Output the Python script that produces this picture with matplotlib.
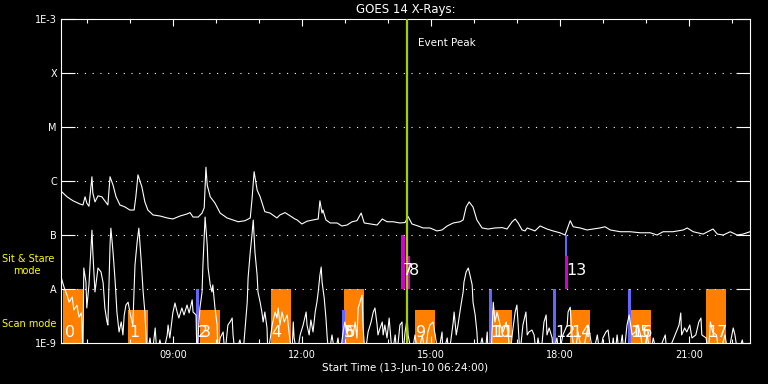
import numpy as np
import matplotlib
matplotlib.use("Agg")
import matplotlib.pyplot as plt

# ---------------- data ----------------
# long channel (1-8 A), time in hours of 13-Jun-2010, flux in units of 1e-7 W/m^2
t_long = [6.40, 6.54, 6.68, 6.84, 6.91, 6.96, 7.00, 7.05, 7.12, 7.14,
          7.19, 7.26, 7.35, 7.42, 7.49, 7.54, 7.61, 7.68, 7.77, 7.89,
          8.00, 8.10, 8.14, 8.19, 8.28, 8.35, 8.42, 8.54, 8.70, 8.87,
          9.00, 9.17, 9.33, 9.40, 9.47, 9.59, 9.68, 9.73, 9.77, 9.80,
          9.87, 9.98, 10.10, 10.26, 10.40, 10.52, 10.68, 10.80, 10.84, 10.89,
          10.96, 11.03, 11.14, 11.26, 11.42, 11.49, 11.61, 11.73, 11.84, 11.89,
          12.00, 12.12, 12.26, 12.38, 12.42, 12.47, 12.49, 12.56, 12.66, 12.82,
          12.93, 13.05, 13.17, 13.28, 13.38, 13.45, 13.59, 13.75, 13.87, 13.98,
          14.12, 14.28, 14.40, 14.47, 14.56, 14.70, 14.82, 14.98, 15.14, 15.26,
          15.38, 15.52, 15.68, 15.75, 15.82, 15.89, 15.98, 16.07, 16.19, 16.33,
          16.49, 16.66, 16.77, 16.89, 16.96, 17.03, 17.12, 17.19, 17.24, 17.42,
          17.54, 17.70, 17.84, 18.00, 18.12, 18.19, 18.24, 18.31, 18.47, 18.63,
          18.77, 18.93, 19.05, 19.17, 19.40, 19.63, 19.87, 20.10, 20.26, 20.40,
          20.63, 20.87, 20.96, 21.10, 21.33, 21.56, 21.66, 21.80, 21.96, 22.12,
          22.26, 22.42]
flux_long = [6.5, 5.1, 4.3, 3.75, 3.6, 5.1, 3.9, 3.4, 12, 6.0,
             4.1, 5.3, 5.1, 4.3, 3.6, 12, 8.4, 5.1, 3.6, 3.3,
             2.9, 2.9, 5.1, 13, 7.8, 4.1, 2.9, 2.35, 2.25, 2.07,
             1.98, 2.25, 2.45, 2.6, 2.15, 2.15, 2.55, 3.2, 18, 8.4,
             5.1, 3.9, 2.55, 2.07, 1.9, 1.76, 1.84, 2.07, 4.45, 14.9,
             6.8, 5.1, 2.7, 2.55, 2.07, 2.35, 2.6, 2.25, 1.98, 1.9,
             1.6, 1.8, 1.9, 1.98, 4.3, 2.55, 2.9, 1.9, 1.67, 1.67,
             1.47, 1.53, 1.76, 1.84, 2.55, 1.67, 1.6, 1.53, 1.98, 1.76,
             1.76, 1.67, 1.7, 2.2, 1.6, 1.47, 1.35, 1.35, 1.19, 1.24,
             1.47, 1.67, 1.76, 1.9, 3.3, 4.1, 3.3, 1.9, 1.35, 1.29,
             1.35, 1.37, 1.29, 1.76, 1.98, 1.67, 1.24, 1.19, 1.35, 1.19,
             1.47, 1.29, 1.19, 1.1, 1.0, 1.42, 1.84, 1.42, 1.35, 1.24,
             1.29, 1.35, 1.42, 1.24, 1.15, 1.15, 1.1, 1.1, 1.0, 1.15,
             1.15, 1.24, 1.35, 1.15, 1.04, 1.29, 1.04, 1.0, 1.15, 1.0,
             1.04, 1.15]

# short channel (0.5-4 A), flux in units of 1e-9 W/m^2 (0.6 = below plot floor)
t_short = [6.40, 6.47, 6.54, 6.59, 6.66, 6.70, 6.77, 6.82, 6.87, 6.89,
           6.91, 6.93, 6.98, 7.00, 7.05, 7.12, 7.14, 7.19, 7.24, 7.26,
           7.33, 7.38, 7.42, 7.47, 7.49, 7.54, 7.56, 7.61, 7.66, 7.70,
           7.75, 7.80, 7.84, 7.87, 7.91, 7.96, 8.00, 8.07, 8.12, 8.17,
           8.21, 8.26, 8.31, 8.35, 8.40, 8.47, 8.52, 8.59, 8.63, 8.70,
           8.77, 8.87, 8.89, 8.93, 9.00, 9.05, 9.10, 9.14, 9.21, 9.26,
           9.33, 9.38, 9.45, 9.47, 9.54, 9.56, 9.63, 9.68, 9.70, 9.75,
           9.80, 9.82, 9.87, 9.91, 9.93, 9.98, 10.03, 10.05, 10.10, 10.17,
           10.21, 10.28, 10.33, 10.38, 10.40, 10.45, 10.56, 10.63, 10.73, 10.75,
           10.80, 10.84, 10.87, 10.91, 10.96, 10.98, 11.03, 11.07, 11.10, 11.14,
           11.19, 11.21, 11.31, 11.38, 11.42, 11.45, 11.49, 11.54, 11.59, 11.66,
           11.70, 11.77, 11.80, 11.82, 11.89, 11.96, 12.03, 12.10, 12.12, 12.17,
           12.21, 12.26, 12.31, 12.35, 12.38, 12.42, 12.45, 12.47, 12.52, 12.56,
           12.59, 12.63, 12.70, 12.77, 12.84, 12.89, 12.96, 13.00, 13.05, 13.12,
           13.19, 13.24, 13.28, 13.31, 13.35, 13.40, 13.42, 13.47, 13.54, 13.61,
           13.66, 13.70, 13.75, 13.77, 13.82, 13.87, 13.89, 13.93, 13.98, 14.03,
           14.10, 14.17, 14.21, 14.28, 14.33, 14.35, 14.40, 14.45, 14.47, 14.56,
           14.63, 14.70, 14.80, 14.87, 14.93, 14.98, 15.05, 15.10, 15.17, 15.26,
           15.28, 15.38, 15.42, 15.52, 15.54, 15.59, 15.63, 15.70, 15.75, 15.77,
           15.82, 15.87, 15.91, 15.96, 15.98, 16.03, 16.07, 16.10, 16.19, 16.26,
           16.31, 16.33, 16.40, 16.45, 16.49, 16.54, 16.61, 16.68, 16.75, 16.80,
           16.84, 16.91, 16.96, 17.00, 17.03, 17.07, 17.14, 17.21, 17.24, 17.28,
           17.35, 17.40, 17.45, 17.49, 17.56, 17.63, 17.68, 17.70, 17.75, 17.82,
           17.84, 17.93, 17.98, 18.07, 18.17, 18.19, 18.24, 18.28, 18.35, 18.42,
           18.52, 18.66, 18.70, 18.77, 18.87, 18.93, 19.00, 19.07, 19.12, 19.19,
           19.24, 19.28, 19.33, 19.38, 19.45, 19.49, 19.56, 19.61, 19.68, 19.75,
           19.82, 19.89, 19.93, 20.03, 20.10, 20.17, 20.26, 20.45, 20.49, 20.77,
           20.81, 20.83, 20.90, 20.95, 21.02, 21.07, 21.16, 21.23, 21.28, 21.30,
           21.40, 21.45, 21.50, 21.55, 21.64, 21.71, 21.84, 21.91, 22.03, 22.07,
           22.14, 22.24, 22.31, 22.42]
flux_short = [16.7, 10.9, 7.7, 5.7, 7.1, 4.1, 5.0, 3.0, 3.6, 2.15,
              0.6, 24.5, 13.5, 4.45, 11.9, 123, 48, 8.8, 18, 24.5,
              20.7, 12.9, 4.45, 2.45, 2.15, 65, 134, 48, 13.5, 3.75,
              1.6, 2.45, 1.41, 3.3, 5.05, 5.7, 3.75, 2.15, 27.8, 74,
              134, 37.5, 8.8, 3.75, 0.6, 1.24, 0.6, 1.9, 0.6, 1.14,
              0.6, 1.41, 2.15, 1.24, 3.6, 5.5, 3.75, 2.9, 4.45, 3.3,
              5.05, 3.6, 6.3, 3.75, 3.3, 0.6, 4.45, 8.8, 27.8, 215,
              65, 24.5, 11.9, 8.8, 11.9, 4.45, 2.15, 0.6, 1.24, 1.6,
              0.6, 2.15, 2.45, 2.9, 1.41, 0.6, 1.14, 0.6, 5.7, 16,
              48, 100, 189, 48, 18, 8.8, 5.7, 3.75, 2.45, 3.75,
              1.9, 0.6, 2.15, 3.75, 2.9, 4.45, 2.15, 3.75, 2.45, 3.3,
              1.6, 0.6, 2.45, 1.24, 0.6, 1.41, 2.15, 3.75, 2.15, 1.41,
              2.67, 1.6, 3.75, 5.7, 8.8, 18, 25.5, 13.5, 6.8, 2.9,
              1.24, 0.6, 1.41, 0.6, 1.24, 0.6, 1.6, 2.45, 1.6, 2.15,
              1.41, 2.45, 1.24, 4.45, 5.7, 7.7, 2.15, 0.6, 1.6, 2.45,
              3.75, 4.45, 2.15, 1.41, 1.9, 2.45, 1.41, 2.15, 1.24, 2.9,
              0.6, 1.41, 0.6, 2.15, 2.45, 0.6, 1.6, 2.9, 1.41, 0.6,
              1.41, 0.6, 1.41, 0.6, 1.6, 2.15, 2.45, 1.41, 0.6, 1.6,
              0.6, 1.24, 0.6, 2.45, 3.75, 1.41, 2.15, 5.05, 8.8, 13.5,
              20.7, 24.5, 18, 11.9, 5.7, 3.3, 1.6, 0.6, 1.24, 0.6,
              1.6, 0.6, 0.6, 5.7, 2.45, 3.75, 2.15, 1.6, 2.45, 1.41,
              0.6, 1.9, 3.75, 5.05, 2.15, 0.6, 2.15, 3.75, 1.41, 1.6,
              1.74, 1.41, 0.6, 1.24, 0.6, 2.45, 3.3, 1.41, 1.9, 1.24,
              0.6, 1.24, 0.6, 1.41, 2.15, 3.75, 4.6, 1.41, 0.6, 1.6,
              0.6, 2.15, 1.41, 0.6, 1.41, 0.6, 1.24, 1.6, 1.74, 0.6,
              1.24, 0.6, 1.41, 0.6, 1.41, 0.6, 2.15, 3.3, 1.41, 1.6,
              2.15, 1.24, 0.6, 1.41, 0.6, 1.24, 0.6, 1.41, 0.6, 2.15,
              3.6, 1.41, 1.9, 1.6, 2.15, 1.24, 1.41, 2.45, 2.9, 1.41,
              1.24, 0.6, 2.45, 1.6, 1.41, 0.6, 1.41, 0.6, 1.9, 1.41,
              0.6, 1.14, 0.6, 0.6]

# scan-mode observations (orange): start hour, duration (h), top flux level
scan_start = [6.45, 7.96, 9.63, 11.28, 12.98, 14.63, 16.42, 18.24, 19.66, 21.40]
scan_dur = [0.465] * 10
scan_top = [1e-8, 4.1e-9, 4.1e-9, 1e-8, 1e-8, 4.1e-9, 4.1e-9, 4.1e-9, 4.1e-9, 1e-8]

# short blue markers in scan region
blue_time = [9.55, 12.94, 16.36, 17.85, 19.59]
blue_top = [1e-8, 4.1e-9, 1e-8, 1e-8, 1e-8]
# sit & stare markers
ss_blue_time = [18.11]
ss_mag_time = [14.31, 14.46, 18.13]
ss_mag_dur = [0.10, 0.05, 0.05]
ss_mag_top = [1e-7, 4.1e-8, 4.1e-8]

# observation number labels
obs_labels = ["0", "1", "2", "3", "4", "5", "6", "7", "8", "9",
              "10", "11", "12", "13", "14", "15", "16", "17"]
obs_time = [6.49, 7.99, 9.58, 9.65, 11.30, 12.97, 13.01, 14.35, 14.49, 14.65,
            16.39, 16.44, 17.89, 18.15, 18.27, 19.63, 19.68, 21.42]
obs_mode = ["scan", "scan", "scan", "scan", "scan", "scan", "scan", "ss", "ss", "scan",
            "scan", "scan", "scan", "ss", "scan", "scan", "scan", "scan"]

event_peak = 14.44
xtick_hours = [9, 12, 15, 18, 21]
xtick_labels = ["09:00", "12:00", "15:00", "18:00", "21:00"]
ytick_vals = [1e-9, 1e-8, 1e-7, 1e-6, 1e-5, 1e-4, 1e-3]
ytick_labels = ["1E-9", "A", "B", "C", "M", "X", "1E-3"]
x_start, x_end = 6.40, 22.42

# ---------------- plot ----------------
fig = plt.figure(figsize=(7.68, 3.84), dpi=100, facecolor="black")
ax = fig.add_axes([61/768, 41/384, 689/768, 324/384], facecolor="black")
ax.set_yscale("log")
ax.set_xlim(x_start, x_end)
ax.set_ylim(1e-9, 1e-3)

ORANGE = "#ff8000"
BLUE = "#6464ff"
MAG = "#d200d2"
GREEN = "#a0d200"

ax.bar(scan_start, np.array(scan_top) - 1e-9, width=scan_dur, bottom=1e-9,
       align="edge", color=ORANGE, zorder=1, linewidth=0)
ax.bar(blue_time, np.array(blue_top) - 1e-9, width=0.07, bottom=1e-9,
       align="edge", color=BLUE, zorder=1.5, linewidth=0)
ax.bar(ss_blue_time, [1e-7 - 1e-8], width=0.05, bottom=1e-8,
       align="edge", color=BLUE, zorder=1.5, linewidth=0)
ax.bar(ss_mag_time, np.array(ss_mag_top) - 1e-8, width=ss_mag_dur, bottom=1e-8,
       align="edge", color=MAG, zorder=1.6, linewidth=0)

ax.plot(t_long, np.array(flux_long) * 1e-7, color="white", lw=0.8, zorder=3)
ax.plot(t_short, np.array(flux_short) * 1e-9, color="white", lw=0.8, zorder=3)

ax.axvline(event_peak, color=GREEN, lw=1.6, zorder=4)
ax.text(event_peak + 0.26, 3.6e-4, "Event Peak", color="white", fontsize=7.5,
        va="center", ha="left", zorder=5)

for lab, t, m in zip(obs_labels, obs_time, obs_mode):
    y = 1.15e-9 if m == "scan" else 1.6e-8
    ax.text(t, y, lab, color="white", fontsize=11.5,
            ha="left", va="bottom", zorder=5)

# axes styling
for s in ax.spines.values():
    s.set_color("white")
    s.set_linewidth(0.8)
ax.set_yticks(ytick_vals)
ax.set_yticklabels(ytick_labels)
ax.yaxis.set_minor_locator(matplotlib.ticker.NullLocator())
ax.set_xticks(xtick_hours)
ax.set_xticklabels(xtick_labels)
ax.set_xticks(np.arange(7, 23), minor=True)
ax.tick_params(axis="y", which="major", direction="in", length=10, width=0.8,
               colors="white", labelsize=7, left=True, right=True, pad=3)
ax.tick_params(axis="x", which="major", direction="in", length=5, width=0.8,
               colors="white", labelsize=7, top=True, bottom=True, pad=5)
ax.tick_params(axis="x", which="minor", direction="in", length=3, width=0.8,
               colors="white", top=True, bottom=True)
for yv in ytick_vals[1:-1]:
    ax.axhline(yv, color="white", lw=0.8, linestyle=(0, (1, 6)), zorder=2)

ax.set_title("GOES 14 X-Rays:", color="white", fontsize=8.5, pad=4)
ax.set_xlabel("Start Time (13-Jun-10 06:24:00)", color="white", fontsize=7.5,
              labelpad=2)

fig.text(2/768, 1 - 259/384, "Sit & Stare", color="#ffff00", fontsize=7,
         ha="left", va="center")
fig.text(13/768, 1 - 271/384, "mode", color="#ffff00", fontsize=7,
         ha="left", va="center")
fig.text(2/768, 1 - 324/384, "Scan mode", color="#ffff00", fontsize=7,
         ha="left", va="center")

fig.savefig("out.png", dpi=100, facecolor="black")
